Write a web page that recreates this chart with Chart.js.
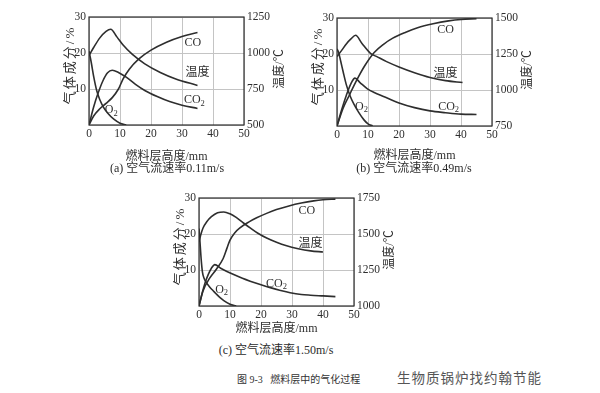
<!DOCTYPE html>
<html>
<head>
<meta charset="utf-8">
<script src="https://cdn.jsdelivr.net/npm/chart.js@4.4.0/dist/chart.umd.min.js"></script>
<style>
  body { margin: 0; background: #fff; width: 600px; height: 393px; position: relative; overflow: hidden;
         font-family: "Liberation Serif", "Noto Sans CJK SC", serif; color: #2b2b2b; }
  canvas { position: absolute; }
  .cap { position: absolute; font-size: 12px; white-space: nowrap; transform: translateX(-50%); line-height: 14px; }
  .fig { position: absolute; white-space: nowrap; line-height: 16px; }
</style>
</head>
<body>
<canvas id="chartA" width="245" height="164" style="left:55px;top:0px"></canvas>
<canvas id="chartB" width="245" height="162" style="left:303px;top:1px"></canvas>
<canvas id="chartC" width="245" height="155" style="left:165px;top:181px"></canvas>

<div class="cap" style="left:167px;top:161px">(a) 空气流速率0.11m/s</div>
<div class="cap" style="left:414px;top:161px">(b) 空气流速率0.49m/s</div>
<div class="cap" style="left:276px;top:343px">(c) 空气流速率1.50m/s</div>
<div class="fig" style="left:237px;top:372px;font-size:10px;color:#333">图 9-3&nbsp;&nbsp;&nbsp;燃料层中的气化过程</div>
<div class="fig" style="left:397px;top:371px;font-size:13.5px;color:#555;letter-spacing:1px">生物质锅炉找约翰节能</div>

<script>
// ticks
const heightTicks = [0, 10, 20, 30, 40, 50];
const gasTicks = [0, 10, 20, 30];
const tempTicksA = [500, 750, 1000, 1250];
const tempTicksB = [750, 1000, 1250, 1500];
const tempTicksC = [1000, 1250, 1500, 1750];

// (a) 0.11 m/s
const aCoX = [0, 1.5, 3.5, 5.5, 7.5, 9.5, 11, 13, 16, 20, 25, 30, 35];
const aCoY = [0, 2.5, 4.5, 6, 7.6, 10, 12.8, 15.5, 18.3, 20.8, 23, 24.6, 25.7];
const aCo2X = [0, 1.5, 3, 4.5, 6, 7.5, 9.5, 12, 15, 18, 22, 26, 30, 35];
const aCo2Y = [0, 5, 9, 12.3, 14.5, 15.2, 14.6, 13.3, 11.3, 9.6, 7.9, 6.5, 5.5, 4.6];
const aO2X = [0, 0.7, 1.5, 2.5, 3.5, 4.5, 6, 8, 10, 12];
const aO2Y = [20.5, 17.5, 13.5, 9.5, 7, 5.2, 3.3, 1.6, 0.5, 0];
const aTempX = [0, 1.5, 3.5, 5.5, 7, 9, 11, 14, 18, 23, 28, 35];
const aTempY = [982, 1038, 1105, 1150, 1165, 1112, 1055, 990, 925, 865, 820, 775];

// (b) 0.49 m/s
const bCoX = [0, 2, 4, 5.5, 7, 9, 12, 15, 18, 22, 26, 31, 36, 40, 45];
const bCoY = [0, 5, 8.6, 11.3, 13.8, 16.8, 20.4, 22.7, 24.4, 26, 27.3, 28.4, 29.2, 29.6, 29.8];
const bCo2X = [0, 1.5, 3, 4.5, 5.8, 7.5, 9.7, 12, 15, 20, 25, 30, 35, 40, 45];
const bCo2Y = [0, 4.5, 8.5, 11.8, 13.3, 12, 10.4, 9.3, 8.2, 6.4, 5.1, 4.2, 3.7, 3.3, 3.2];
const bO2X = [0, 0.5, 1.2, 2, 3, 4.3, 5.5, 7, 8.7, 10, 11.5];
const bO2Y = [21.4, 20.5, 18, 15, 11.5, 8.2, 6, 3.8, 1.7, 0.6, 0];
const bTempX = [0, 1.5, 3, 4.5, 6, 8, 10.8, 13, 16, 20, 25, 30, 35, 40.5];
const bTempY = [1232, 1275, 1320, 1355, 1380, 1325, 1255, 1230, 1197, 1160, 1120, 1087, 1065, 1052];

// (c) 1.50 m/s
const cCoX = [0, 1.3, 3.5, 5.6, 7.8, 9, 10, 11.5, 13.2, 16, 18.6, 22, 25, 29, 33, 37, 40, 44];
const cCoY = [0, 4.2, 7.8, 10.2, 13.2, 16, 18.3, 20.3, 21.7, 23.3, 24.5, 25.8, 26.8, 27.8, 28.6, 29.2, 29.5, 29.7];
const cCo2X = [0, 1, 2, 3, 4, 5.1, 7, 9, 11, 14, 16.5, 20, 23, 26, 29.4, 33, 36, 40, 44];
const cCo2Y = [0, 3.5, 6.5, 8.8, 10.5, 11.5, 10.5, 9.6, 8.8, 7.7, 6.9, 5.9, 5.1, 4.4, 3.7, 3.2, 3, 2.8, 2.6];
const cO2X = [0, 0.3, 0.7, 1.1, 1.6, 2.4, 3.5, 4.5, 5.5, 6.7, 8, 10, 12];
const cO2Y = [21.5, 18, 13, 9.5, 7.8, 6.5, 5.2, 4.3, 3.4, 2.4, 1.5, 0.5, 0];
const cTempX = [0, 0.5, 1.3, 2.5, 4, 6, 8, 10, 12, 14, 16.5, 19, 22, 25, 28, 32, 36, 40];
const cTempY = [1445, 1490, 1542, 1585, 1620, 1648, 1653, 1640, 1615, 1582, 1542, 1505, 1470, 1443, 1420, 1398, 1383, 1375];

// curve names placed in data coordinates (x mm, y %)
const labelsA = [
  { x: 33.5, y: 22.8, text: 'CO' }, { x: 35, y: 14.4, text: '温度' },
  { x: 34, y: 7, text: 'CO', sub: '2' }, { x: 7.2, y: 4.2, text: 'O', sub: '2' }
];
const labelsB = [
  { x: 35, y: 26.6, text: 'CO' }, { x: 35, y: 14.6, text: '温度' },
  { x: 36, y: 5.4, text: 'CO', sub: '2' }, { x: 7.9, y: 5.4, text: 'O', sub: '2' }
];
const labelsC = [
  { x: 34.8, y: 26.5, text: 'CO' }, { x: 36, y: 17.3, text: '温度' },
  { x: 25, y: 6.2, text: 'CO', sub: '2' }, { x: 7.3, y: 4.6, text: 'O', sub: '2' }
];

const FONT = '"Liberation Serif", "Noto Sans CJK SC", serif';
const INK = '#2e2e2e';

const framePlugin = {
  id: 'frame',
  beforeDatasetsDraw(chart) {
    const { ctx, chartArea: a } = chart;
    ctx.save();
    ctx.strokeStyle = INK;
    ctx.lineWidth = 1.2;
    ctx.strokeRect(a.left, a.top, a.right - a.left, a.bottom - a.top);
    ctx.restore();
  }
};

// both vertical axis titles read bottom-to-top, as in the original figure
const sideTitles = {
  id: 'sideTitles',
  afterDraw(chart) {
    const { ctx, chartArea: a, width } = chart;
    const midY = (a.top + a.bottom) / 2;
    ctx.save();
    ctx.fillStyle = INK;
    ctx.textAlign = 'center';
    ctx.textBaseline = 'middle';

    ctx.save();
    ctx.translate(16, midY - 6);
    ctx.rotate(-Math.PI / 2);
    ctx.font = '13px ' + FONT;
    ctx.letterSpacing = '2px';
    ctx.fillText('气体成分/%', 0, 0);
    ctx.restore();

    ctx.save();
    ctx.translate(width - 20, midY - 2);
    ctx.rotate(-Math.PI / 2);
    ctx.font = '12px ' + FONT;
    ctx.fillText('温度/℃', 0, 0);
    ctx.restore();

    ctx.restore();
  }
};

const labelPlugin = {
  id: 'curveLabels',
  afterDatasetsDraw(chart, args, opts) {
    const { ctx } = chart;
    const xs = chart.scales.x, ys = chart.scales.y;
    ctx.save();
    ctx.fillStyle = INK;
    ctx.textBaseline = 'middle';
    ctx.textAlign = 'left';
    (opts.items || []).forEach(l => {
      const px = xs.getPixelForValue(l.x), py = ys.getPixelForValue(l.y);
      ctx.font = '12px ' + FONT;
      const w1 = ctx.measureText(l.text).width;
      let w2 = 0;
      if (l.sub) { ctx.font = '8.5px ' + FONT; w2 = ctx.measureText(l.sub).width; }
      const x0 = px - (w1 + w2) / 2;
      ctx.font = '12px ' + FONT;
      ctx.fillText(l.text, x0, py);
      if (l.sub) { ctx.font = '8.5px ' + FONT; ctx.fillText(l.sub, x0 + w1, py + 3.5); }
    });
    ctx.restore();
  }
};

function series(xs, ys, axis) {
  return {
    data: xs.map((x, i) => ({ x: x, y: ys[i] })),
    yAxisID: axis,
    borderColor: INK,
    borderWidth: 1.6,
    pointRadius: 0,
    fill: false,
    cubicInterpolationMode: 'monotone'
  };
}

function setTicks(values) {
  return scale => { scale.ticks = values.map(v => ({ value: v })); };
}

function buildChart(id, lines, tempTicks, labels, canvasH) {
  const tickFont = { family: FONT, size: 11.5 };
  const titleFont = { family: FONT, size: 12 };
  new Chart(document.getElementById(id), {
    type: 'line',
    data: { datasets: lines },
    options: {
      responsive: false,
      animation: false,
      layout: { padding: { top: 17, left: 0, right: 0, bottom: 0 } },
      plugins: { legend: { display: false }, tooltip: { enabled: false }, curveLabels: { items: labels } },
      scales: {
        x: {
          type: 'linear', min: 0, max: 50,
          afterBuildTicks: setTicks(heightTicks),
          ticks: { font: tickFont, color: INK, padding: 2, maxRotation: 0, callback: v => String(v) },
          grid: { color: '#c4c4c4', lineWidth: 1, drawTicks: false },
          border: { display: false },
          title: { display: true, text: '燃料层高度/mm', font: titleFont, color: INK, padding: { top: 0, bottom: 0 } },
          afterFit: s => { s.height = canvasH - 125; }
        },
        y: {
          position: 'left', min: 0, max: 30,
          afterBuildTicks: setTicks(gasTicks),
          ticks: { font: tickFont, color: INK, padding: 3, callback: v => (v === 0 ? '' : String(v)) },
          grid: { color: '#c4c4c4', lineWidth: 1, drawTicks: false },
          border: { display: false },
          afterFit: s => { s.width = 34; }
        },
        t: {
          position: 'right', min: tempTicks[0], max: tempTicks[tempTicks.length - 1],
          afterBuildTicks: setTicks(tempTicks),
          ticks: { font: tickFont, color: INK, padding: 3, callback: v => String(v) },
          grid: { display: false, drawTicks: false },
          border: { display: false },
          afterFit: s => { s.width = 56; }
        }
      }
    },
    plugins: [framePlugin, labelPlugin, sideTitles]
  });
}

buildChart('chartA', [
  series(aCoX, aCoY, 'y'), series(aCo2X, aCo2Y, 'y'), series(aO2X, aO2Y, 'y'), series(aTempX, aTempY, 't')
], tempTicksA, labelsA, 164);

buildChart('chartB', [
  series(bCoX, bCoY, 'y'), series(bCo2X, bCo2Y, 'y'), series(bO2X, bO2Y, 'y'), series(bTempX, bTempY, 't')
], tempTicksB, labelsB, 162);

buildChart('chartC', [
  series(cCoX, cCoY, 'y'), series(cCo2X, cCo2Y, 'y'), series(cO2X, cO2Y, 'y'), series(cTempX, cTempY, 't')
], tempTicksC, labelsC, 155);
</script>
</body>
</html>
